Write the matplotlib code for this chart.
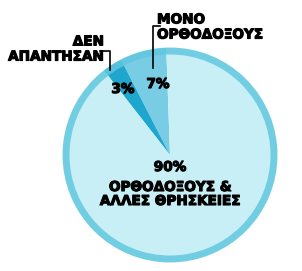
import matplotlib
matplotlib.use("Agg")
import matplotlib.pyplot as plt
import matplotlib.patheffects as pe
from matplotlib.patches import Circle

# data
labels = ["ΟΡΘΟΔΟΞΟΥΣ &\nΑΛΛΕΣ ΘΡΗΣΚΕΙΕΣ", "ΜΟΝΟ\nΟΡΘΟΔΟΞΟΥΣ", "ΔΕΝ\nΑΠΑΝΤΗΣΑΝ"]
values = [90, 7, 3]
colors = ["#c8eff5", "#78cde4", "#1fa6cf"]

W, H = 302, 271
fig = plt.figure(figsize=(W / 100, H / 100), dpi=100)
ax = fig.add_axes([0, 0, 1, 1])

cx, cy, r = 170, H - 155, 107

# small slices start just left of the top and go counter-clockwise
ax.pie(values[1:] + values[:1], colors=colors[1:] + colors[:1],
       startangle=92, counterclock=True, center=(cx, cy), radius=r,
       wedgeprops=dict(linewidth=0), frame=True)
ax.set_xlim(0, W)
ax.set_ylim(0, H)
ax.set_aspect("equal")
ax.axis("off")

# outer ring
ax.add_patch(Circle((cx, cy), r - 3, fill=False, edgecolor="#62c7df", linewidth=5, alpha=0.85))

bold = [pe.withStroke(linewidth=0.8, foreground="black")]
txt = dict(fontsize=9.8, fontweight="bold", color="black", family="DejaVu Sans",
           path_effects=bold)

# percentages
ax.text(cx, H - 167, f"{values[0]}%", ha="center", va="center", **txt)
ax.text(cx, H - 194, labels[0], ha="center", va="center", linespacing=1.0, **txt)
ax.text(158, H - 84, f"{values[1]}%", ha="center", va="center", **txt)
ax.text(123, H - 89, f"{values[2]}%", ha="center", va="center", **txt)

# callout labels
ax.text(157, H - 27, labels[1], ha="left", va="center", linespacing=1.1, **txt)
ax.text(104, H - 49, labels[2], ha="right", va="center", linespacing=1.1, **txt)

# leader lines
ax.plot([160, 153, 153], [H - 26, H - 26, H - 68], color="black", lw=1.2)
ax.plot([100, 110, 110], [H - 51, H - 51, H - 70], color="black", lw=1.2)

fig.savefig("out.png", dpi=100)
